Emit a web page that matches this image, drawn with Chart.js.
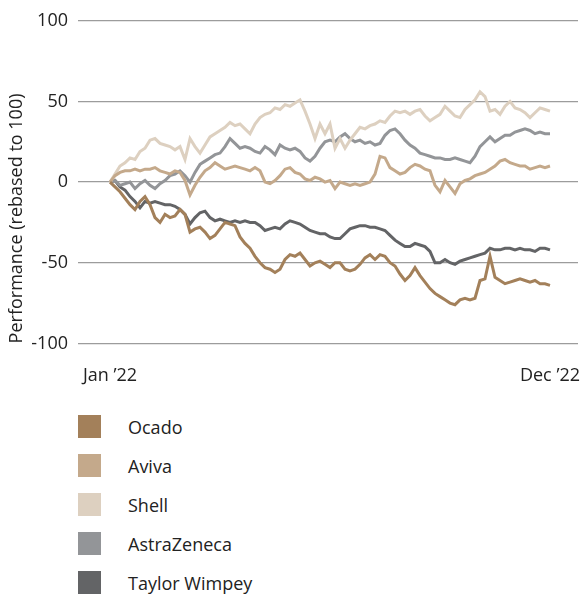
<!DOCTYPE html>
<html>
<head>
<meta charset="utf-8">
<script src="https://cdn.jsdelivr.net/npm/chart.js@4.4.1/dist/chart.umd.min.js"></script>
<style>
  body { margin: 0; background: #fff; font-family: "Open Sans", sans-serif; }
  #wrap { position: relative; width: 580px; height: 594px; }
  #chart-box { position: absolute; left: 0; top: 0; width: 580px; height: 413px; }
  #legend { position: absolute; left: 78px; top: 415px; }
  .item { display: flex; align-items: center; height: 23px; margin-bottom: 16px; font-size: 18px; color: #222; }
  .swatch { width: 23px; height: 23px; margin-right: 27px; }
</style>
</head>
<body>
<div id="wrap">
  <div id="chart-box"><canvas id="perf-chart" width="580" height="413"></canvas></div>
  <div id="legend"></div>
</div>
<script>
// tick labels shown under the x axis (first and last point)
const xTickLabels = ["Jan \u201922", "Dec \u201922"];

const seriesNames = ["Ocado", "Aviva", "Shell", "AstraZeneca", "Taylor Wimpey"];
const seriesColors = ["#a3805a", "#c4a98b", "#ddd0c0", "#939598", "#636466"];

// performance values, roughly weekly through 2022
const ocado = [0, -3, -6, -10, -14, -17, -12, -9, -14, -22, -25, -20, -22, -21, -17, -20, -31, -29, -28, -31,
  -35, -33, -29, -25, -26, -27, -34, -38, -41, -46, -50, -53, -54, -56, -54, -48, -45, -46, -44, -48,
  -52, -50, -49, -51, -53, -50, -50, -54, -55, -54, -51, -47, -45, -48, -45, -46, -50, -52, -57, -61,
  -58, -53, -58, -62, -66, -69, -71, -73, -75, -76, -73, -72, -73, -72, -61, -60, -46, -59, -61, -63,
  -62, -61, -60, -61, -62, -61, -63, -63, -64];

const aviva = [0, 4, 6, 7, 7, 8, 7, 8, 8, 9, 7, 6, 5, 7, 6, 1, -8, -2, 3, 7,
  9, 12, 10, 8, 9, 10, 9, 8, 7, 9, 7, 0, -1, 1, 4, 8, 9, 6, 5, 2,
  1, 3, 2, 0, 1, -4, 0, -1, -2, -1, -2, -1, 0, 5, 16, 15, 9, 7, 5, 6,
  9, 11, 10, 8, 7, -2, -6, 1, -3, -7, -1, 1, 2, 4, 5, 6, 8, 10, 13, 14,
  12, 11, 10, 10, 8, 9, 10, 9, 10];

const shell = [0, 5, 10, 12, 15, 14, 19, 21, 26, 27, 24, 23, 22, 20, 22, 14, 27, 22, 18, 23,
  28, 30, 32, 34, 37, 35, 36, 33, 30, 36, 40, 42, 43, 46, 45, 48, 47, 49, 51, 44,
  36, 27, 36, 30, 36, 21, 27, 21, 26, 30, 34, 33, 35, 36, 38, 37, 41, 44, 43, 44,
  42, 44, 45, 41, 38, 40, 42, 47, 44, 41, 40, 45, 48, 51, 56, 53, 44, 45, 42, 47,
  50, 46, 45, 43, 40, 43, 46, 45, 44];

const astraZeneca = [0, 1, -2, -1, 0, -4, -1, 1, -2, -4, -1, 1, 4, 5, 7, 4, 0, 6, 11, 13,
  15, 17, 18, 22, 27, 24, 21, 22, 21, 19, 18, 22, 20, 17, 23, 21, 20, 21, 19, 15,
  13, 16, 21, 25, 26, 25, 28, 30, 27, 25, 26, 24, 25, 23, 24, 29, 32, 33, 30, 26,
  23, 21, 18, 17, 16, 15, 15, 14, 14, 15, 14, 13, 12, 16, 22, 25, 28, 25, 27, 29,
  29, 31, 32, 33, 32, 30, 31, 30, 30];

const taylorWimpey = [0, 1, -3, -5, -9, -12, -16, -12, -13, -12, -13, -14, -14, -15, -17, -20, -26, -22, -19, -18,
  -22, -24, -23, -24, -25, -24, -25, -24, -25, -25, -27, -30, -29, -28, -29, -26, -24, -25, -26, -28,
  -30, -31, -32, -32, -34, -35, -35, -32, -29, -28, -27, -27, -28, -28, -29, -30, -33, -36, -38, -40,
  -40, -38, -39, -40, -43, -50, -50, -48, -50, -51, -49, -48, -47, -46, -45, -44, -41, -42, -42, -41,
  -41, -42, -41, -42, -42, -43, -41, -41, -42];

const allSeries = [ocado, aviva, shell, astraZeneca, taylorWimpey];
const lastIndex = ocado.length - 1;

let datasets = [];
allSeries.forEach(function (values, i) {
  datasets.push({
    label: seriesNames[i],
    data: values.map(function (v, idx) { return { x: idx, y: v }; }),
    borderColor: seriesColors[i],
    backgroundColor: seriesColors[i],
    borderWidth: 3,
    pointRadius: 0,
    tension: 0
  });
});

const tickFont = { family: "Open Sans", size: 18 };

let ctx = document.getElementById('perf-chart');
let perfChart = new Chart(ctx, {
  type: 'line',
  data: { datasets: datasets },
  options: {
    responsive: false,
    animation: false,
    layout: { padding: { top: 10, right: 2, bottom: 12, left: 0 } },
    plugins: { legend: { display: false }, tooltip: { enabled: false } },
    scales: {
      x: {
        type: 'linear',
        min: -6.4,
        max: lastIndex + 5.6,
        grid: { display: false },
        border: { display: false },
        afterBuildTicks: function (scale) {
          scale.ticks = [{ value: 0 }, { value: lastIndex }];
        },
        afterFit: function (scale) {
          scale.paddingLeft = 0;
          scale.paddingRight = 0;
        },
        ticks: {
          maxRotation: 0,
          autoSkip: false,
          padding: 14,
          color: '#222',
          font: tickFont,
          callback: function (value) {
            return value === 0 ? xTickLabels[0] : xTickLabels[1];
          }
        }
      },
      y: {
        min: -100,
        max: 100,
        afterFit: function (scale) { scale.width = 78; },
        ticks: { stepSize: 50, padding: 10, color: '#222', font: tickFont },
        grid: { color: '#9c9c9c', lineWidth: 1.3, drawTicks: false },
        border: { display: false },
        title: {
          display: true,
          text: 'Performance (rebased to 100)',
          align: 'start',
          color: '#222',
          font: tickFont,
          padding: { top: 6, bottom: 0 }
        }
      }
    }
  }
});

// html legend, one row per series
let legendBox = document.getElementById('legend');
seriesNames.forEach(function (name, i) {
  let row = document.createElement('div');
  row.className = 'item';
  row.innerHTML = '<span class="swatch" style="background:' + seriesColors[i] + '"></span>' + name;
  legendBox.appendChild(row);
});
</script>
</body>
</html>
